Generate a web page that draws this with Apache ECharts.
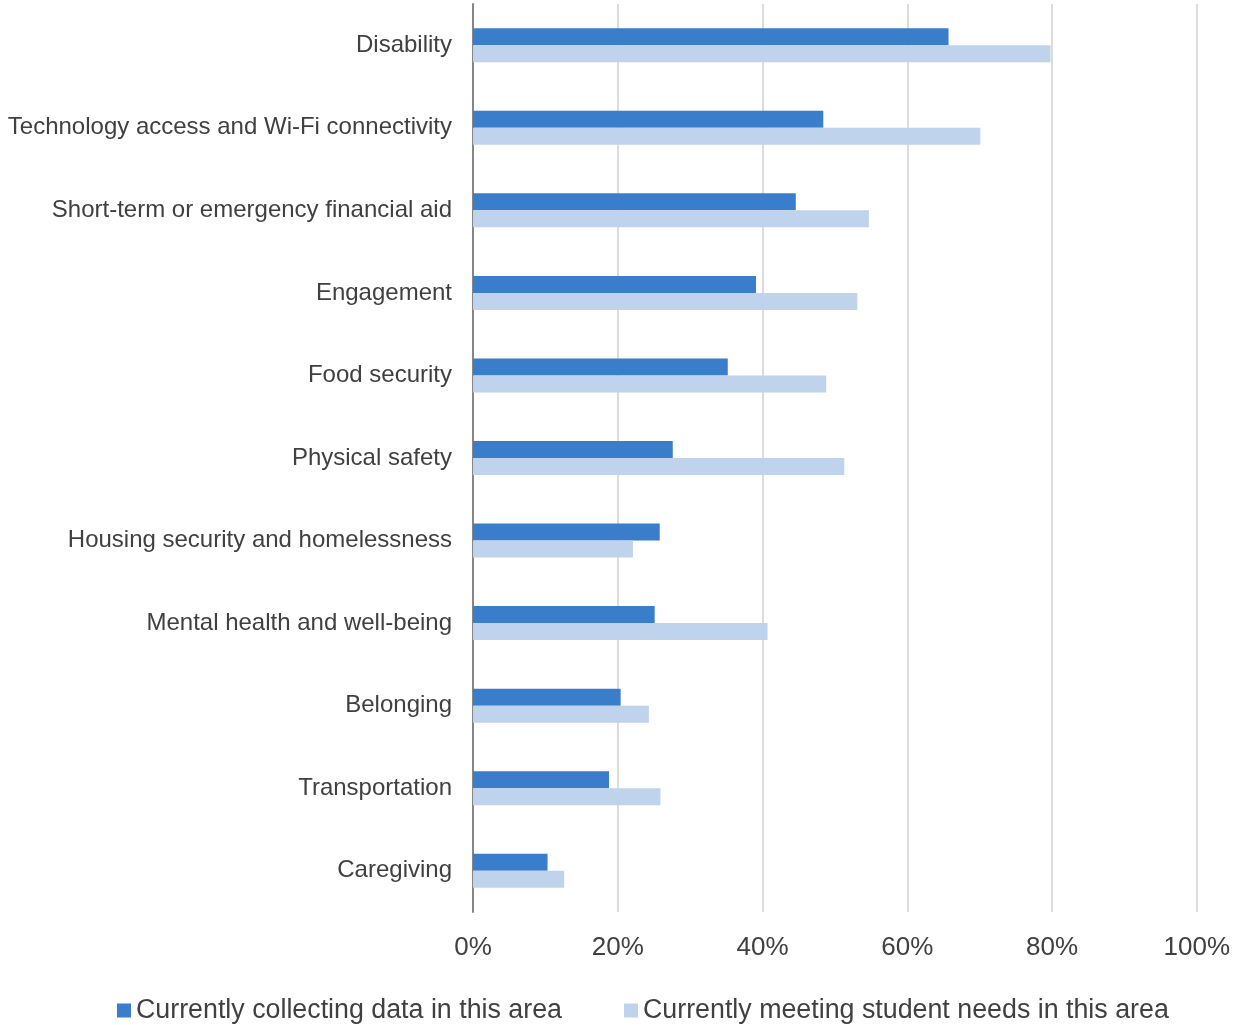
<!DOCTYPE html>
<html>
<head>
<meta charset="utf-8">
<script src="https://cdn.jsdelivr.net/npm/echarts@6/dist/echarts.min.js"></script>
<style>
html,body{margin:0;padding:0;background:#fff;}
#main{width:1233px;height:1025px;}
</style>
</head>
<body>
<div id="main"></div>
<script>
// 数据
var categories = ['Disability', 'Technology access and Wi-Fi connectivity', 'Short-term or emergency financial aid',
	'Engagement', 'Food security', 'Physical safety', 'Housing security and homelessness',
	'Mental health and well-being', 'Belonging', 'Transportation', 'Caregiving'];
var collecting = [65.7, 48.4, 44.6, 39.1, 35.2, 27.6, 25.8, 25.1, 20.4, 18.8, 10.3];
var meeting = [79.8, 70.1, 54.7, 53.1, 48.8, 51.3, 22.1, 40.7, 24.3, 25.9, 12.6];
var seriesNames = ['Currently collecting data in this area', 'Currently meeting student needs in this area'];

var myChart = echarts.init(document.getElementById('main'));
var font = 'Liberation Sans, Arial, sans-serif';

var option = {
	animation: false,
	textStyle: { fontFamily: font },
	grid: { left: 473, right: 31, top: 4, bottom: 113 },
	legend: {
		left: 112, top: 992,
		icon: 'rect', itemWidth: 14, itemHeight: 14, itemGap: 62,
		textStyle: { fontSize: 26.8, color: '#404040', fontFamily: font },
		data: seriesNames
	},
	xAxis: {
		type: 'value', min: 0, max: 100, interval: 20,
		axisLine: { show: false }, axisTick: { show: false },
		axisLabel: { formatter: '{value}%', fontSize: 26, color: '#404040', margin: 23, fontFamily: font },
		splitLine: { lineStyle: { color: '#d0d0d0', width: 1.5 } }
	},
	yAxis: {
		type: 'category', inverse: true, data: categories,
		axisLine: { lineStyle: { color: '#868686', width: 2 } },
		axisTick: { show: false },
		axisLabel: { fontSize: 24, color: '#404040', margin: 21, fontFamily: font }
	},
	series: [
		{ name: seriesNames[0], type: 'bar', data: collecting, barWidth: 17, barGap: 0,
		  itemStyle: { color: '#3a7dca' } },
		{ name: seriesNames[1], type: 'bar', data: meeting, barWidth: 17, barGap: 0,
		  itemStyle: { color: '#bfd3ec' } }
	]
};
myChart.setOption(option);
</script>
</body>
</html>
